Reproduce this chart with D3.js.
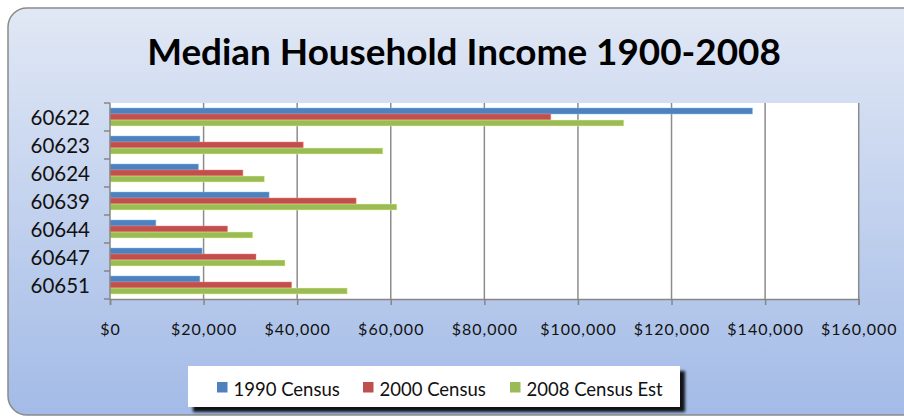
<!DOCTYPE html>
<html>
<head>
<meta charset="utf-8">
<script src="https://cdn.jsdelivr.net/npm/d3@7"></script>
<style>
  html, body { margin: 0; padding: 0; background: #ffffff; }
  svg { display: block; }
</style>
</head>
<body>
<div id="chart"></div>
<script>
// data
const zips = ['60622', '60623', '60624', '60639', '60644', '60647', '60651'];
const seriesNames = ['1990 Census', '2000 Census', '2008 Census Est'];
const census1990 = [137300, 19200, 18900, 34000, 9800, 19700, 19200];
const census2000 = [94200, 41300, 28400, 52600, 25100, 31200, 38800];
const census2008 = [109800, 58300, 33000, 61300, 30500, 37400, 50700];
const xTicks = [0, 20000, 40000, 60000, 80000, 100000, 120000, 140000, 160000];
const colors = ['#4F81BD', '#C0504D', '#9BBB59'];

const W = 904, H = 417;
const plot = { left: 110, top: 103, right: 858.7, bottom: 299 };

const svg = d3.select('#chart').append('svg')
  .attr('width', W)
  .attr('height', H);

const defs = svg.append('defs');
const bg = defs.append('linearGradient')
  .attr('id', 'bg').attr('x1', 0).attr('y1', 0).attr('x2', 0).attr('y2', 1);
bg.append('stop').attr('offset', '0%').attr('stop-color', '#e1e8f5');
bg.append('stop').attr('offset', '100%').attr('stop-color', '#a3bbe7');

const shadow = defs.append('filter').attr('id', 'shadow')
  .attr('x', '-5%').attr('y', '-20%').attr('width', '115%').attr('height', '160%');
shadow.append('feGaussianBlur').attr('in', 'SourceAlpha').attr('stdDeviation', 1.5);
shadow.append('feOffset').attr('dx', 5).attr('dy', 5).attr('result', 'off');
shadow.append('feComponentTransfer').append('feFuncA').attr('type', 'linear').attr('slope', 0.9);
const merge = shadow.append('feMerge');
merge.append('feMergeNode');
merge.append('feMergeNode').attr('in', 'SourceGraphic');

// chart box (right edge runs past the picture)
svg.append('rect')
  .attr('x', 8).attr('y', 8)
  .attr('width', 930).attr('height', 407)
  .attr('rx', 19).attr('ry', 19)
  .attr('fill', 'url(#bg)')
  .attr('stroke', '#8a8a8a')
  .attr('stroke-width', 1.5);

// title
const title = svg.append('text')
  .attr('x', (147 + 781) / 2)
  .attr('y', 65)
  .attr('text-anchor', 'middle')
  .style('font-family', 'Lato, sans-serif')
  .style('font-weight', '700')
  .style('font-size', '36px')
  .style('fill', '#000')
  .text('Median Household Income 1900-2008');
const tw = title.node().getComputedTextLength();
title.style('font-size', (36 * 634 / tw) + 'px');

// scales
const x = d3.scaleLinear().domain([0, 160000]).range([plot.left, plot.right]);
const y = d3.scaleBand().domain(zips).range([plot.top, plot.bottom])
  .paddingInner(0.357).paddingOuter(0.1785);
const ySub = d3.scaleBand().domain(seriesNames).range([0, y.bandwidth()]);

svg.append('rect')
  .attr('x', plot.left).attr('y', plot.top)
  .attr('width', plot.right - plot.left).attr('height', plot.bottom - plot.top)
  .attr('fill', '#ffffff');

// gridlines
svg.append('g')
  .selectAll('line')
  .data(xTicks.slice(1))
  .enter().append('line')
  .attr('x1', d => x(d)).attr('x2', d => x(d))
  .attr('y1', plot.top).attr('y2', plot.bottom)
  .attr('stroke', '#8c8c8c')
  .attr('stroke-width', 1.5);

// bars
const seriesData = [census1990, census2000, census2008];
const groups = svg.append('g')
  .selectAll('g')
  .data(zips)
  .enter().append('g')
  .attr('transform', d => `translate(0,${y(d)})`);

groups.selectAll('rect')
  .data((d, i) => seriesNames.map((s, j) => ({ s, v: seriesData[j][i], c: colors[j] })))
  .enter().append('rect')
  .attr('x', x(0))
  .attr('y', d => ySub(d.s))
  .attr('width', d => x(d.v) - x(0))
  .attr('height', ySub.bandwidth())
  .attr('fill', d => d.c)
  .attr('stroke', d => d3.color(d.c).brighter(1.2))
  .attr('stroke-opacity', 0.45)
  .attr('stroke-width', 1);

// x axis
const xAxis = svg.append('g')
  .attr('transform', `translate(0,${plot.bottom})`)
  .call(d3.axisBottom(x).tickValues(xTicks).tickSize(6).tickPadding(19)
    .tickFormat(d => '$' + d3.format(',')(d)));
xAxis.select('.domain').attr('stroke', '#868686').attr('stroke-width', 1.5);
xAxis.selectAll('.tick line').attr('stroke', '#868686').attr('stroke-width', 1.5);
xAxis.selectAll('.tick text')
  .style('font-family', 'Lato, sans-serif')
  .style('font-size', '16px')
  .style('letter-spacing', '1px')
  .style('fill', '#111');

// y axis: ticks sit on band edges
const yAxis = svg.append('g')
  .attr('transform', `translate(${plot.left},0)`);
yAxis.append('line')
  .attr('x1', 0).attr('x2', 0).attr('y1', plot.top).attr('y2', plot.bottom)
  .attr('stroke', '#868686').attr('stroke-width', 1.5);
const edges = zips.map(z => y(z) - y.step() * y.paddingInner() / 2).concat([plot.bottom]);
yAxis.selectAll('line.tk')
  .data(edges)
  .enter().append('line')
  .attr('class', 'tk')
  .attr('x1', -6).attr('x2', 0)
  .attr('y1', d => d).attr('y2', d => d)
  .attr('stroke', '#868686').attr('stroke-width', 1.5);
yAxis.selectAll('text')
  .data(zips)
  .enter().append('text')
  .attr('x', -20)
  .attr('y', d => y(d) + y.bandwidth() / 2)
  .attr('dy', '0.38em')
  .attr('text-anchor', 'end')
  .style('font-family', 'Lato, sans-serif')
  .style('font-size', '20.5px')
  .style('fill', '#111')
  .text(d => d);

// legend
const legend = svg.append('g');
legend.append('rect')
  .attr('x', 188).attr('y', 366)
  .attr('width', 492).attr('height', 41)
  .attr('fill', '#ffffff')
  .attr('filter', 'url(#shadow)');
const legendX = [217, 363, 510];
const items = legend.selectAll('g.item')
  .data(seriesNames)
  .enter().append('g')
  .attr('class', 'item')
  .attr('transform', (d, i) => `translate(${legendX[i]},382)`);
items.append('rect')
  .attr('width', 10.5).attr('height', 10.5)
  .attr('fill', (d, i) => colors[i]);
items.append('text')
  .attr('x', 16.5)
  .attr('y', 13.5)
  .style('font-family', 'Lato, sans-serif')
  .style('font-size', '18.5px')
  .style('fill', '#111')
  .text(d => d);
</script>
</body>
</html>
